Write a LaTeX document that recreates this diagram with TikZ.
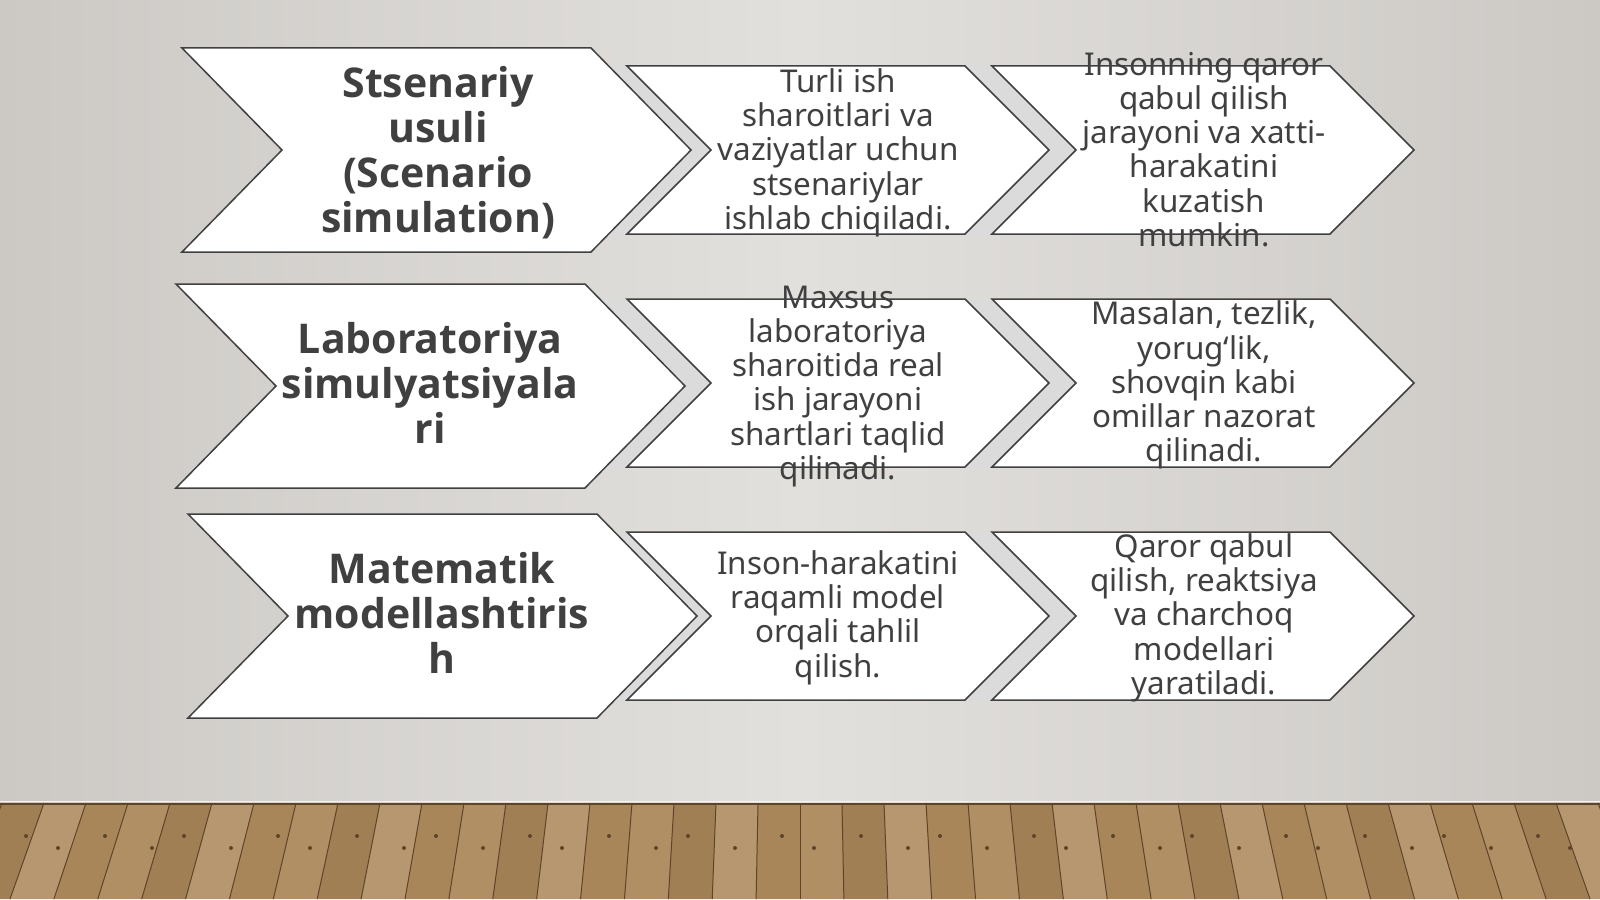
\documentclass[tikz,border=0pt]{standalone}
\usepackage{fontspec}
\setmainfont{Noto Sans}
\newfontfamily\headfont{Open Sans}
\usepackage{tikz}

\definecolor{txtgray}{HTML}{404040}
\definecolor{bgside}{HTML}{CCC9C5}
\definecolor{bgmid}{HTML}{E2E0DD}
\definecolor{wood0}{HTML}{A8865A}
\definecolor{wood1}{HTML}{B79770}
\definecolor{wood2}{HTML}{A07F55}
\definecolor{wood3}{HTML}{AF8F63}
\definecolor{woodline}{HTML}{5E4428}

\tikzset{
  chev/.style={draw=txtgray, line width=1.5pt, fill=white, line join=miter},
  band/.style={fill=gray!28},
  bigtext/.style={text=txtgray, align=center, font=\headfont\fontsize{41}{45}\selectfont\bfseries},
  smalltext/.style={text=txtgray, align=center, font=\fontsize{31.4}{34.2}\selectfont},
}

\begin{document}
\begin{tikzpicture}[x=1pt,y=-1pt]

\useasboundingbox (0,0) rectangle (1600,899);

\shade [left color=bgside, right color=bgside, middle color=bgmid] (0,0) rectangle (1600,803);

\fill [wood0] (0,803) rectangle (1600,899);
\foreach \x [count=\i] in {-40,2,...,1640} {
    \pgfmathsetmacro\c{int(mod(\i*7,4))}
    \fill [wood\c] (\x,803) -- (\x+42,803) -- ({800+(\x+42-800)*1.045},899) -- ({800+(\x-800)*1.045},899) -- cycle;
    \draw [woodline, line width=1pt] (\x,803) -- ({800+(\x-800)*1.045},899);
    \fill [woodline] ({\x+14+mod(\i,3)*5},{836+mod(\i,2)*12}) circle (2);
}
\draw [woodline, line width=2pt] (0,804) -- (1600,804);
\draw [white!90!brown, line width=1.2pt] (0,801.5) -- (1600,801.5);

\foreach \y/\t in {150/692, 383/684, 616/698}
    \fill [band] (\t-84,\y-84) -- (\t,\y) -- (\t-84,\y+84) -- (627,\y+84) -- (711,\y) -- (627,\y-84) -- cycle;
\foreach \y in {150, 383, 616}
    \fill [band] (965,\y-84) -- (1049,\y) -- (965,\y+84) -- (992,\y+84) -- (1076,\y) -- (992,\y-84) -- cycle;

\foreach \x/\y in {182/150, 176/386, 188/616}
    \draw [chev] (\x,\y-102) -- ++(409,0) -- ++(100,102) -- ++(-100,102) -- ++(-409,0) -- ++(100,-102) -- cycle;

\foreach \y in {150, 383, 616}
    \foreach \x in {627, 992}
        \draw [chev] (\x,\y-84) -- ++(338,0) -- ++(84,84) -- ++(-84,84) -- ++(-338,0) -- ++(84,-84) -- cycle;

\node [bigtext] (big1) at (438,155.5) {\strut Stsenariy\\usuli\\(Scenario\\simulation)\strut};
\node [bigtext] (big2) at (430,389) {\strut Laboratoriya\\simulyatsiyala\\ri\strut};
\node [bigtext] (big3) at (442,619) {\strut Matematik\\modellashtiris\\h\strut};

\node [smalltext] (mid1) at (838,154) {\strut Turli ish\\sharoitlari va\\vaziyatlar uchun\\stsenariylar\\ishlab chiqiladi.\strut};
\node [smalltext] (mid2) at (838,387) {\strut Maxsus\\laboratoriya\\sharoitida real\\ish jarayoni\\shartlari taqlid\\qilinadi.\strut};
\node [smalltext] (mid3) at (838,619) {\strut Inson-harakatini\\raqamli model\\orqali tahlil\\qilish.\strut};

\node [smalltext] (end1) at (1204,154) {\strut Insonning qaror\\qabul qilish\\jarayoni va xatti-\\harakatini\\kuzatish\\mumkin.\strut};
\node [smalltext] (end2) at (1204,386.5) {\strut Masalan, tezlik,\\yorug‘lik,\\shovqin kabi\\omillar nazorat\\qilinadi.\strut};
\node [smalltext] (end3) at (1204,619) {\strut Qaror qabul\\qilish, reaktsiya\\va charchoq\\modellari\\yaratiladi.\strut};

\end{tikzpicture}
\end{document}
